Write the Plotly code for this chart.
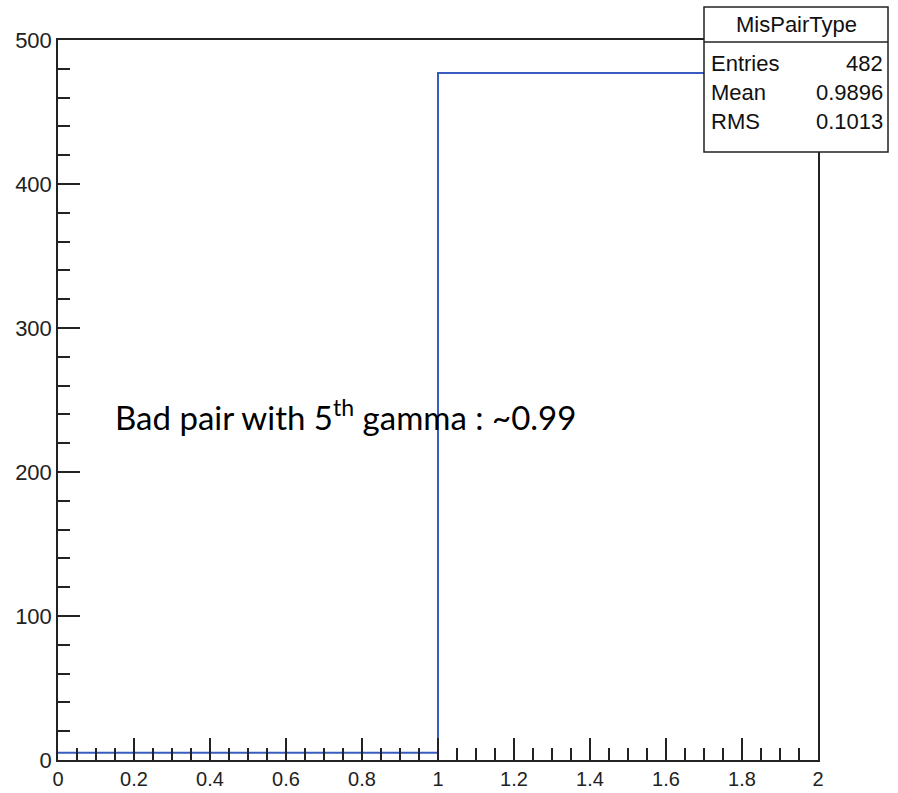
import plotly.graph_objects as go

# ---- data ----
bin_edges = [0.0, 1.0, 2.0]
bin_counts = [5, 477]
hist_name = "MisPairType"
stat_labels = ["Entries", "Mean", "RMS"]
stat_values = ["482", "0.9896", "0.1013"]
note_text = "Bad pair with 5<sup>th</sup> gamma : ~0.99"

W, H = 898, 793
L, R, T, B = 58, 818, 40, 760  # plot area in pixels

def px(x):
    return (x - L) / (R - L)

def py(y):
    return (B - y) / (B - T)

step_x = list(bin_edges)
step_y = list(bin_counts) + [bin_counts[-1]]

fig = go.Figure()
fig.add_trace(go.Scatter(
    x=step_x, y=step_y, mode="lines", line_shape="hv",
    line=dict(color="#3a5cc0", width=2), showlegend=False, hoverinfo="skip"))

x_tick_font = dict(family="Liberation Sans, Arial, sans-serif", size=20, color="#222")
y_tick_font = dict(family="Liberation Sans, Arial, sans-serif", size=22, color="#222")

fig.update_xaxes(range=[0, 2], dtick=0.2, tick0=0, ticks="inside", ticklen=22, tickwidth=1.5,
                 tickcolor="#222", showline=True, mirror=True, linecolor="#222", linewidth=1.5,
                 showgrid=False, zeroline=False, tickfont=x_tick_font, ticklabelstandoff=0,
                 automargin=False,
                 minor=dict(ticks="inside", ticklen=12, dtick=0.05, tickwidth=1.5, tickcolor="#222", showgrid=False))
fig.update_yaxes(range=[0, 500], dtick=100, tick0=0, ticks="inside", ticklen=22, tickwidth=1.5,
                 tickcolor="#222", showline=True, mirror=True, linecolor="#222", linewidth=1.5,
                 showgrid=False, zeroline=False, tickfont=y_tick_font, ticklabelstandoff=0,
                 automargin=False,
                 minor=dict(ticks="inside", ticklen=12, dtick=20, tickwidth=1.5, tickcolor="#222", showgrid=False))

# stat box
bx0, bx1, by0, by1, bsep = 704, 888, 7, 152, 42
shapes = [
    dict(type="rect", xref="paper", yref="paper", x0=px(bx0), x1=px(bx1), y0=py(by1), y1=py(by0),
         fillcolor="white", line=dict(color="#222", width=1.5), layer="above"),
    dict(type="line", xref="paper", yref="paper", x0=px(bx0), x1=px(bx1), y0=py(bsep), y1=py(bsep),
         line=dict(color="#222", width=1.5), layer="above"),
]
box_font = dict(family="Liberation Sans, Arial, sans-serif", size=22, color="#111")
annotations = [
    dict(x=px((bx0 + bx1) / 2), y=py((by0 + bsep) / 2), xref="paper", yref="paper", text=hist_name,
         showarrow=False, xanchor="center", yanchor="middle", font=box_font),
]
row_y = [64, 93, 121]
for lab, val, yy in zip(stat_labels, stat_values, row_y):
    annotations.append(dict(x=px(bx0 + 5), y=py(yy), xref="paper", yref="paper", text=lab,
                            showarrow=False, xanchor="left", yanchor="middle", font=box_font))
    annotations.append(dict(x=px(bx1 - 3), y=py(yy), xref="paper", yref="paper", text=val,
                            showarrow=False, xanchor="right", yanchor="middle", font=box_font))

annotations.append(dict(x=px(113), y=py(415), xref="paper", yref="paper", text=note_text,
                        showarrow=False, xanchor="left", yanchor="middle",
                        font=dict(family="Lato, sans-serif", size=33, color="black")))

fig.update_layout(width=W, height=H, margin=dict(l=L, r=W - R, t=T, b=H - B, autoexpand=False),
                  paper_bgcolor="white", plot_bgcolor="white", shapes=shapes, annotations=annotations)

fig.write_html("out.html")
